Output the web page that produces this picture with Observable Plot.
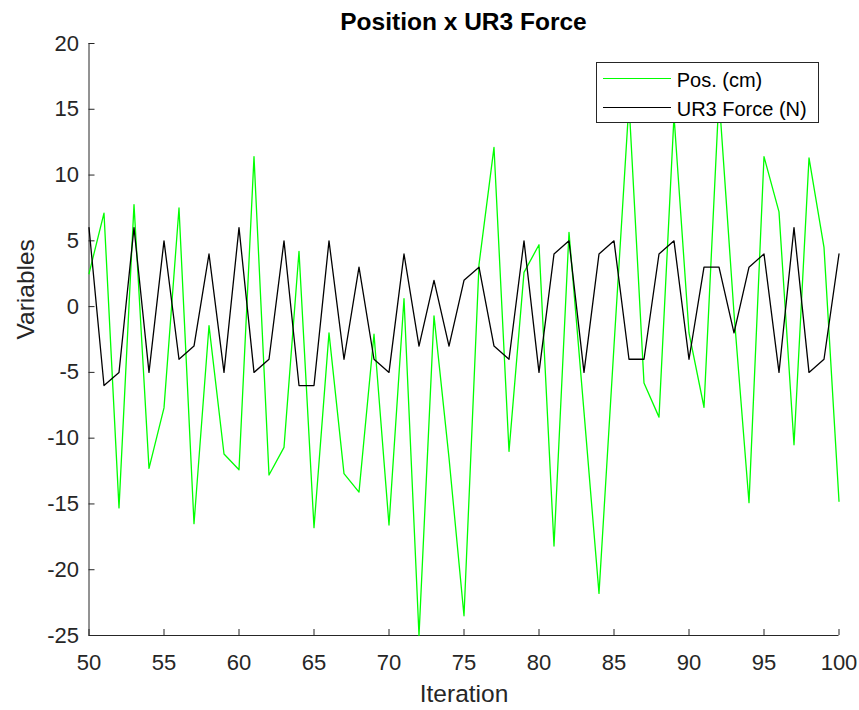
<!DOCTYPE html>
<html>
<head>
<meta charset="utf-8">
<script src="https://cdn.jsdelivr.net/npm/d3@7"></script>
<script src="https://cdn.jsdelivr.net/npm/@observablehq/plot@0.6"></script>
<style>
  body { margin: 0; background: #fff; font-family: "Liberation Sans", Arial, Helvetica, sans-serif; }
  #wrap { position: relative; width: 859px; height: 710px; overflow: hidden; }
  #chart { position: absolute; left: 0; top: 0; }
  #title { position: absolute; left: 88.5px; width: 750px; top: 1.5px; height: 40px; line-height: 40px;
           text-align: center; font-weight: bold; font-size: 24.5px; color: #000; white-space: nowrap; }
  #legend { position: absolute; left: 596px; top: 62px; width: 223px; height: 61px; box-sizing: border-box;
            border: 1px solid #262626; background: #fff; }
  .sw { position: absolute; left: 5.7px; width: 68px; height: 1.4px; }
  .lt { position: absolute; left: 79.7px; font-size: 20px; line-height: 20px; color: #000; white-space: nowrap; }
</style>
</head>
<body>
<div id="wrap">
  <div id="chart"></div>
  <div id="title">Position x UR3 Force</div>
  <div id="legend">
    <div class="sw" style="top:14.6px;background:#00ff00"></div>
    <div class="lt" style="top:6.8px">Pos. (cm)</div>
    <div class="sw" style="top:43.6px;background:#000000"></div>
    <div class="lt" style="top:36.1px">UR3 Force (N)</div>
  </div>
</div>
<script>
const iterations = [50,51,52,53,54,55,56,57,58,59,60,61,62,63,64,65,66,67,68,69,70,71,72,73,74,75,
                    76,77,78,79,80,81,82,83,84,85,86,87,88,89,90,91,92,93,94,95,96,97,98,99,100];
const positionCm = [2.5,7.1,-15.3,7.75,-12.3,-7.7,7.5,-16.5,-1.45,-11.2,-12.4,11.4,-12.8,-10.7,4.2,-16.8,
                    -2.0,-12.7,-14.1,-2.1,-16.6,0.6,-25,-0.7,-11.5,-23.5,3.2,12.1,-11.0,2.6,4.7,-18.2,5.65,
                    -8,-21.8,-3,15.5,-5.8,-8.4,14.5,-2,-7.65,16,-0.5,-14.9,11.4,7.2,-10.5,11.3,4.5,-14.8];
const forceN = [6,-6,-5,6,-5,5,-4,-3,4,-5,6,-5,-4,5,-6,-6,5,-4,3,-4,-5,4,-3,2,-3,2,3,-3,-4,5,-5,4,5,-5,4,5,
                -4,-4,4,5,-4,3,3,-2,3,4,-5,6,-5,-4,4];
const xTicks = [50,55,60,65,70,75,80,85,90,95,100];
const yTicks = [-25,-20,-15,-10,-5,0,5,10,15,20];
const seriesNames = ["Pos. (cm)", "UR3 Force (N)"];
const seriesColors = ["#00ff00", "#000000"];

const posRows = iterations.map((it, i) => ({iter: it, value: positionCm[i], series: seriesNames[0]}));
const forceRows = iterations.map((it, i) => ({iter: it, value: forceN[i], series: seriesNames[1]}));

const W = 859, H = 710;
const mL = 88.5, mR = 20.5, mT = 43, mB = 75;
const innerW = W - mL - mR, innerH = H - mT - mB;
const axisColor = "#262626";
const tickLen = 6;

const chart = Plot.plot({
  width: W, height: H,
  marginLeft: mL, marginRight: mR, marginTop: mT, marginBottom: mB,
  style: { fontFamily: '"Liberation Sans", Arial, Helvetica, sans-serif', fontSize: "22px", color: axisColor, background: "#fff" },
  x: { domain: [50, 100] },
  y: { domain: [-25, 20] },
  marks: [
    Plot.axisX({ ticks: xTicks, tickSize: 0, tickPadding: 19, tickFormat: d => String(d), fontSize: 22,
                 fill: axisColor, label: null }),
    Plot.axisY({ ticks: yTicks, tickSize: 0, tickPadding: 10, tickFormat: d => String(d), fontSize: 22,
                 fill: axisColor, label: null }),
    Plot.text(["Iteration"], { frameAnchor: "bottom", dy: 59, fontSize: 24.5, fill: axisColor, lineAnchor: "middle" }),
    Plot.text(["Variables"], { frameAnchor: "left", dx: -63, rotate: -90, fontSize: 24.5, fill: axisColor, lineAnchor: "middle" }),
    Plot.tickX(xTicks, { x: d => d, insetTop: innerH - tickLen, stroke: axisColor, strokeWidth: 1 }),
    Plot.tickY(yTicks, { y: d => d, insetRight: innerW - tickLen, stroke: axisColor, strokeWidth: 1 }),
    Plot.ruleX([50], { stroke: axisColor, strokeWidth: 1 }),
    Plot.ruleY([-25], { stroke: axisColor, strokeWidth: 1 }),
    Plot.line(posRows, { x: "iter", y: "value", stroke: seriesColors[0], strokeWidth: 1.3 }),
    Plot.line(forceRows, { x: "iter", y: "value", stroke: seriesColors[1], strokeWidth: 1.3 })
  ]
});
document.getElementById("chart").appendChild(chart);
</script>
</body>
</html>
